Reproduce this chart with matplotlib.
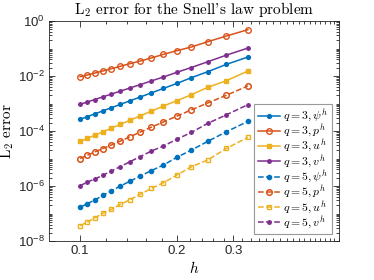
import matplotlib
matplotlib.use("Agg")
import matplotlib.pyplot as plt
from matplotlib.ticker import FixedLocator, NullFormatter

plt.rcParams['mathtext.fontset'] = 'cm'
plt.rcParams['mathtext.rm'] = 'Liberation Sans'
plt.rcParams['mathtext.it'] = 'Liberation Sans'

# mesh sizes h = 2/N, N = 20..6
h = [0.1, 0.10526, 0.11111, 0.11765, 0.125, 0.13333, 0.14286, 0.15385,
     0.16667, 0.18182, 0.2, 0.22222, 0.25, 0.28571, 0.33333]

# errors
q3_psi = [2.66e-4, 3.33e-4, 4.20e-4, 5.38e-4, 7.00e-4, 9.25e-4, 1.25e-3, 1.72e-3,
          2.43e-3, 3.54e-3, 5.35e-3, 8.71e-3, 1.44e-2, 2.65e-2, 4.91e-2]
q3_p = [9.44e-3, 1.087e-2, 1.285e-2, 1.52e-2, 1.84e-2, 2.25e-2, 2.80e-2, 3.51e-2,
        4.52e-2, 6.14e-2, 8.32e-2, 0.1135, 0.177, 0.285, 0.483]
q3_u = [4.17e-5, 5.38e-5, 7.05e-5, 9.35e-5, 1.26e-4, 1.74e-4, 2.45e-4, 3.55e-4,
        5.28e-4, 8.13e-4, 1.26e-3, 2.09e-3, 3.89e-3, 6.76e-3, 1.52e-2]
q3_v = [9.33e-4, 1.135e-3, 1.40e-3, 1.74e-3, 2.19e-3, 2.81e-3, 3.66e-3, 4.86e-3,
        6.61e-3, 9.20e-3, 1.36e-2, 2.04e-2, 3.31e-2, 5.75e-2, 0.104]
q5_psi = [1.68e-7, 2.29e-7, 3.09e-7, 4.57e-7, 6.61e-7, 1.0e-6, 1.48e-6, 2.31e-6,
          3.63e-6, 5.81e-6, 1.10e-5, 2.04e-5, 4.22e-5, 9.44e-5, 2.24e-4]
q5_p = [1.0e-5, 1.32e-5, 1.74e-5, 2.29e-5, 3.09e-5, 4.27e-5, 6.17e-5, 9.12e-5,
        1.38e-4, 2.14e-4, 3.47e-4, 5.89e-4, 1.05e-3, 2.0e-3, 4.37e-3]
q5_u = [3.63e-8, 4.90e-8, 6.92e-8, 1.02e-7, 1.41e-7, 2.14e-7, 3.16e-7, 5.01e-7,
        8.22e-7, 1.32e-6, 2.51e-6, 5.01e-6, 8.91e-6, 2.34e-5, 5.89e-5]
q5_v = [1.02e-6, 1.40e-6, 1.80e-6, 2.45e-6, 3.51e-6, 5.04e-6, 7.66e-6, 1.17e-5,
        1.87e-5, 2.85e-5, 5.01e-5, 8.91e-5, 1.91e-4, 3.89e-4, 9.12e-4]

labels = [r'$q=3,\psi^h$', r'$q=3,p^h$', r'$q=3,u^h$', r'$q=3,v^h$',
          r'$q=5,\psi^h$', r'$q=5,p^h$', r'$q=5,u^h$', r'$q=5,v^h$']

blue, red, yellow, purple = '#0072BD', '#D95319', '#EDB120', '#7E2F8E'
star = (8, 2, 0)

fig = plt.figure(figsize=(3.74, 2.80), dpi=100)
ax = fig.add_axes([0.131, 0.139, 0.775, 0.786])

lw = 1.1
ax.plot(h, q3_psi, '-', color=blue, marker='.', ms=5.5, lw=lw, label=labels[0])
ax.plot(h, q3_p, '-', color=red, marker='o', ms=4, mfc='none', mew=1.0, lw=lw, label=labels[1])
ax.plot(h, q3_u, '-', color=yellow, marker='s', ms=2.8, mew=1.0, lw=lw, label=labels[2])
ax.plot(h, q3_v, '-', color=purple, marker=star, ms=3.5, mew=0.8, lw=lw, label=labels[3])
ax.plot(h, q5_psi, '--', color=blue, marker='.', ms=6, lw=lw, label=labels[4])
ax.plot(h, q5_p, '--', color=red, marker='o', ms=4, mfc='none', mew=1.1, lw=lw, label=labels[5])
ax.plot(h, q5_u, '--', color=yellow, marker='s', ms=3.3, mfc='none', mew=1.0, lw=lw, label=labels[6])
ax.plot(h, q5_v, '--', color=purple, marker=star, ms=3.5, mew=0.8, lw=lw, label=labels[7])

ax.set_xscale('log')
ax.set_yscale('log')
ax.set_xlim(0.08, 0.64)
ax.set_ylim(1e-8, 1e0)

# ticks like matlab
ax.xaxis.set_major_locator(FixedLocator([0.1, 0.2, 0.3]))
ax.xaxis.set_minor_locator(FixedLocator([0.12, 0.14, 0.16, 0.18, 0.22, 0.24, 0.26, 0.28]
                                        + [0.32 + 0.02 * i for i in range(17)]))
ax.xaxis.set_minor_formatter(NullFormatter())
ax.set_xticklabels(['0.1', '0.2', '0.3'], family='Liberation Sans', fontsize=9.5)

yt = [1e-8, 1e-6, 1e-4, 1e-2, 1e0]
ax.yaxis.set_major_locator(FixedLocator(yt))
ymin = []
for e in range(-8, 0):
    ymin += [k * 10.0 ** e for k in range(2, 10)]
ymin += [10.0 ** e for e in (-7, -5, -3, -1)]
ax.yaxis.set_minor_locator(FixedLocator(ymin))
ax.yaxis.set_minor_formatter(NullFormatter())
ylab = ax.set_yticklabels([r'$10^{-8}$', r'$10^{-6}$', r'$10^{-4}$', r'$10^{-2}$', r'$10^{0}$'],
                          fontsize=9.5)
for t in ylab:
    t.set_math_fontfamily('custom')

ax.tick_params(which='both', direction='in', top=True, right=True, color='#262626',
               labelcolor='#262626', width=0.6)
ax.tick_params(which='major', length=4, pad=3)
ax.tick_params(which='minor', length=2)
for s in ax.spines.values():
    s.set_color('#262626')
    s.set_linewidth(0.6)

ax.set_title(r"L$_2$ error for the Snell's law problem", family='cmr10', fontsize=11, pad=5)
ax.set_ylabel(r"L$_2$ error", family='cmr10', fontsize=11, labelpad=1)
ax.set_xlabel(r"$h$", fontsize=11, labelpad=2)

leg = ax.legend(loc='lower right', bbox_to_anchor=(0.985, 0.02), fontsize=8.5, frameon=True,
                fancybox=False, edgecolor='#999999', framealpha=1, borderpad=0.3,
                labelspacing=-0.1, handlelength=1.9, handletextpad=0.25, borderaxespad=0.2)
leg.get_frame().set_linewidth(0.8)

fig.savefig('out.png', dpi=100)
